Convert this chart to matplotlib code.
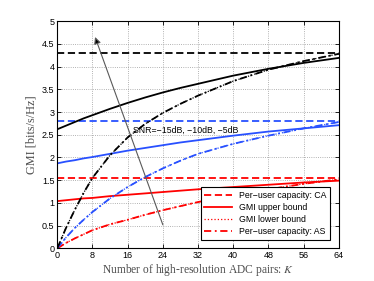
import matplotlib
matplotlib.use('Agg')
import matplotlib.pyplot as plt

# ---------------------------------------------------------------------------------------
"""데이터 (그림에서 읽은 값)"""
K = [0, 2, 4, 6, 8, 12, 16, 20, 24, 28, 32, 40, 48, 56, 64]

# Per-user capacity: CA (상수)
ca_red = 1.54
ca_blue = 2.80
ca_black = 4.30

# GMI upper bound
ub_red = [1.04, 1.06, 1.08, 1.10, 1.11, 1.15, 1.18, 1.21, 1.24, 1.27, 1.30, 1.35, 1.40, 1.45, 1.49]
ub_blue = [1.87, 1.91, 1.94, 1.98, 2.01, 2.08, 2.15, 2.21, 2.27, 2.33, 2.38, 2.48, 2.57, 2.64, 2.71]
ub_black = [2.62, 2.70, 2.78, 2.86, 2.93, 3.07, 3.20, 3.32, 3.43, 3.53, 3.62, 3.80, 3.95, 4.08, 4.19]

# GMI lower bound / Per-user capacity: AS
as_red = [0.0, 0.12, 0.22, 0.31, 0.40, 0.53, 0.63, 0.74, 0.84, 0.93, 1.02, 1.17, 1.30, 1.42, 1.52]
as_blue = [0.0, 0.24, 0.45, 0.63, 0.80, 1.10, 1.35, 1.57, 1.76, 1.93, 2.08, 2.30, 2.48, 2.64, 2.78]
as_black = [0.0, 0.45, 0.85, 1.22, 1.55, 2.05, 2.44, 2.74, 2.98, 3.18, 3.36, 3.68, 3.93, 4.12, 4.28]

legend_labels = ['Per\u2212user capacity: CA', 'GMI upper bound', 'GMI lower bound', 'Per\u2212user capacity: AS']
snr_text = 'SNR=\u221215dB, \u221210dB, \u22125dB'

# ---------------------------------------------------------------------------------------
plt.rcParams['font.family'] = ['Liberation Sans', 'DejaVu Sans']
plt.rcParams['mathtext.fontset'] = 'stix'

fig = plt.figure(figsize=(3.74, 2.81), dpi=100)
ax = fig.add_axes([0.153, 0.116, 0.753, 0.809])

blue = '#2850ff'
lw = 1.3
for ca, ub, asv, c in [(ca_red, ub_red, as_red, 'red'),
                       (ca_blue, ub_blue, as_blue, blue),
                       (ca_black, ub_black, as_black, 'black')]:
    ax.plot([K[0], K[-1]], [ca, ca], '--', color=c, lw=lw, dashes=(4, 2))
    ax.plot(K, ub, '-', color=c, lw=lw)
    ax.plot(K, asv, ':', color=c, lw=0.9)
    ax.plot(K, asv, '-.', color=c, lw=lw, dashes=(4, 2, 1, 2))

# 범례용 핸들 (빨간색)
h1, = ax.plot([], [], '--', color='red', lw=lw, dashes=(4, 2))
h2, = ax.plot([], [], '-', color='red', lw=lw)
h3, = ax.plot([], [], ':', color='red', lw=0.9)
h4, = ax.plot([], [], '-.', color='red', lw=lw, dashes=(4, 2, 1, 2))
leg = ax.legend([h1, h2, h3, h4], legend_labels, loc='lower right', fontsize=6.3,
                fancybox=False, framealpha=1, edgecolor='black', borderpad=0.4,
                labelspacing=0.35, handlelength=3.2, borderaxespad=1.0)
leg.get_frame().set_linewidth(0.8)

ax.annotate('', xy=(8.6, 4.65), xytext=(24, 0.52),
            arrowprops=dict(arrowstyle='-|>', color='0.35', lw=0.8, fc='black',
                            mutation_scale=10, shrinkA=0, shrinkB=0))
ax.text(17.2, 2.6, snr_text, fontsize=6.3, va='center', ha='left')

ax.set_xlim(0, 64)
ax.set_ylim(0, 5)
ax.set_xticks(range(0, 65, 8))
ax.set_yticks([0, 0.5, 1, 1.5, 2, 2.5, 3, 3.5, 4, 4.5, 5])
ax.set_yticklabels(['0', '0.5', '1', '1.5', '2', '2.5', '3', '3.5', '4', '4.5', '5'])
ax.tick_params(direction='in', top=True, right=True, labelsize=6.5, length=3, width=0.6, pad=2)
ax.grid(True, linestyle=':', color='0.6', lw=0.6)
for s in ax.spines.values():
    s.set_linewidth(0.8)

ax.set_xlabel('Number of high-resolution ADC pairs: $K$', family='Liberation Serif', fontsize=8.3, labelpad=1)
ax.set_ylabel('GMI [bits/s/Hz]', family='Liberation Serif', fontsize=8.8, labelpad=3, color='0.3')
ax.xaxis.label.set_color('0.3')

fig.savefig('out.png', dpi=100)
